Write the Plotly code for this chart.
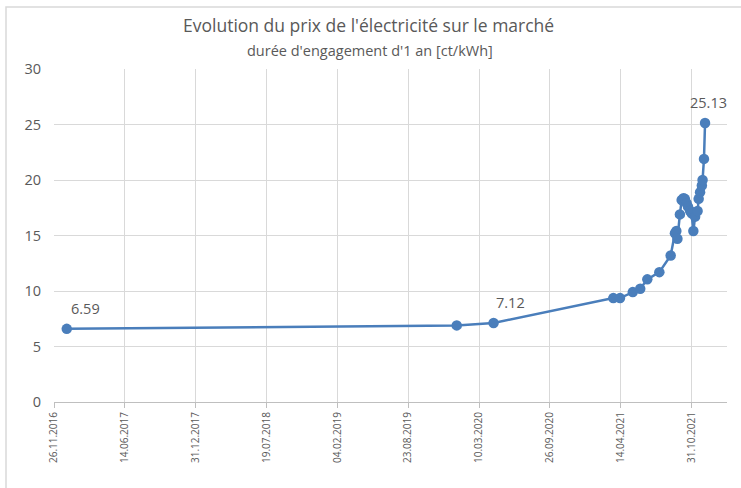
import plotly.graph_objects as go

title_text = "Evolution du prix de l'électricité sur le marché"
subtitle_text = "durée d'engagement d'1 an [ct/kWh]"

dates = ["2017-01-01", "2020-01-07", "2020-04-20", "2021-03-24", "2021-04-12",
         "2021-05-18", "2021-06-08", "2021-06-28", "2021-08-01", "2021-09-02",
         "2021-09-14", "2021-09-18", "2021-09-21", "2021-09-28", "2021-10-03",
         "2021-10-08", "2021-10-12", "2021-10-17", "2021-10-21", "2021-10-27",
         "2021-10-31", "2021-11-05", "2021-11-10", "2021-11-17", "2021-11-20",
         "2021-11-24", "2021-11-29", "2021-12-01", "2021-12-05", "2021-12-08"]
prices = [6.59, 6.90, 7.12, 9.36, 9.36, 9.9, 10.2, 11.05, 11.7, 13.2,
          15.2, 15.4, 14.7, 16.9, 18.2, 18.35, 18.3, 17.9, 17.6, 17.2,
          17.0, 15.4, 16.7, 17.2, 18.3, 18.9, 19.5, 20.0, 21.9, 25.13]
labelled_idx = [0, 2, 29]

x_min = "2016-11-26"
x_max = "2022-02-08"
tick_step_days = 200
y_ticks = [0, 5, 10, 15, 20, 25, 30]

FONT = "Open Sans"
GREY = "#595959"
BLUE = "#4a7ebb"

fig = go.Figure()
fig.add_trace(go.Scatter(
    x=dates, y=prices, mode="lines+markers",
    line=dict(color=BLUE, width=2.5),
    marker=dict(color=BLUE, size=10.5),
    hoverinfo="x+y", showlegend=False,
))

label_shifts = {0: 19, 2: 17, 29: 3}
for i in labelled_idx:
    fig.add_annotation(x=dates[i], y=prices[i], text=f"{prices[i]:.2f}",
                       showarrow=False, xanchor="center", yanchor="bottom",
                       xshift=label_shifts[i], yshift=9,
                       font=dict(family=FONT, size=14.5, color=GREY))

fig.add_annotation(x=0.468, xref="paper", y=1.0 + 44 / 333, yref="paper",
                   text=title_text, showarrow=False, xanchor="center", yanchor="middle",
                   font=dict(family=FONT, size=17.5, color=GREY))
fig.add_annotation(x=0.47, xref="paper", y=1.0 + 19 / 333, yref="paper",
                   text=subtitle_text, showarrow=False, xanchor="center", yanchor="middle",
                   font=dict(family=FONT, size=14.5, color=GREY))

# chart border (Excel-like)
fig.add_shape(type="rect", xref="paper", yref="paper",
              x0=(6 - 54) / 673, x1=(760 - 54) / 673,
              y0=-(500 - 402) / 333, y1=1 + (69 - 7) / 333,
              line=dict(color="#d9d9d9", width=1.5), layer="below")

fig.update_xaxes(
    type="date", range=[x_min, x_max],
    tick0=x_min, dtick=tick_step_days * 86400000,
    tickformat="%d.%m.%Y", tickangle=-90,
    tickfont=dict(family=FONT, size=10, color=GREY),
    showgrid=True, gridcolor="#d9d9d9", gridwidth=1,
    showline=True, linecolor="#bfbfbf", linewidth=1,
    ticks="outside", ticklen=5, tickcolor="#bfbfbf",
    zeroline=False,
)
fig.update_yaxes(
    range=[0, 30], tickvals=y_ticks,
    tickfont=dict(family=FONT, size=14.5, color=GREY),
    showgrid=True, gridcolor="#d9d9d9", gridwidth=1,
    showline=False, zeroline=False, ticks="", ticklabelstandoff=12,
)

fig.update_layout(
    width=741, height=488,
    margin=dict(l=54, r=14, t=69, b=86),
    paper_bgcolor="white", plot_bgcolor="white",
    font=dict(family=FONT, color=GREY),
)

fig.write_html("out.html",
               config={"displayModeBar": False},
               post_script="document.body.style.margin='0';document.body.style.overflow='hidden';")
